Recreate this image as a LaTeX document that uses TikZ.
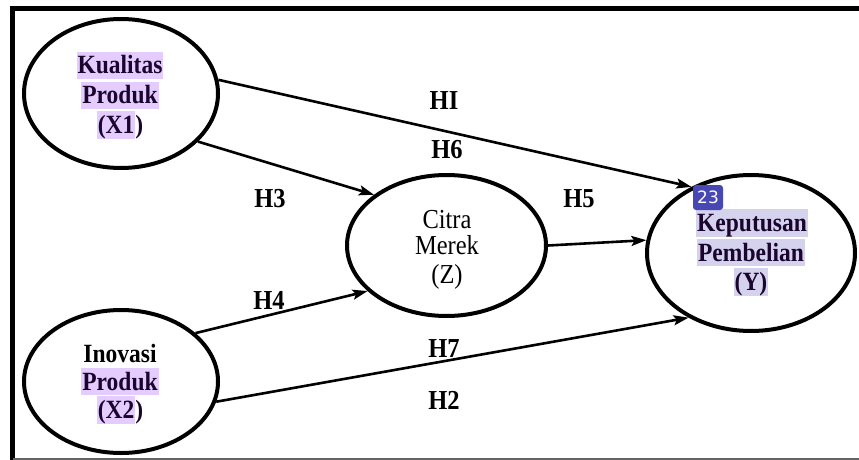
\documentclass[tikz,border=0pt]{standalone}
\usepackage{fontspec}
\setmainfont{Liberation Serif}
\newfontfamily\badgefont{DejaVu Sans}
\usetikzlibrary{shapes.geometric,arrows.meta}
\definecolor{hlA}{RGB}{229,204,255}
\definecolor{hlB}{RGB}{213,210,238}
\definecolor{ink}{RGB}{25,5,45}
\definecolor{badgeblue}{RGB}{72,72,180}
\definecolor{framegray}{RGB}{100,100,100}
\newcommand\hlbox[2]{{\setlength{\fboxsep}{0pt}\colorbox{#1}{\rule[-5pt]{0pt}{27pt}\hspace{1pt}#2\hspace{1pt}}}}
\newcommand\tallish[1]{\scalebox{1}[1.12]{#1}}
\begin{document}
\begin{tikzpicture}[x=1pt,y=-1pt,
  latent/.style={draw, ellipse, line width=4pt, inner sep=0pt},
  hyp/.style={line width=2.6pt, -{Stealth[length=15pt,width=10pt,inset=3pt]}},
  lbl/.style={font=\fontsize{24.5}{24}\selectfont\bfseries, inner sep=0pt},
  txt/.style={anchor=base, inner sep=0pt, font=\fontsize{23.5}{28}\selectfont\bfseries, text=ink},
  txtz/.style={anchor=base, inner sep=0pt, font=\fontsize{24.5}{28}\selectfont, text=black}
]
\useasboundingbox (0,0) rectangle (859,460);
% frame
\draw[line width=5pt] (12.5,460) -- (12.5,8.5) -- (859,8.5);
\draw[framegray, line width=1.5pt] (12.5,459) -- (859,459);

% latent variables
\node[latent, minimum width=194pt, minimum height=149pt] (x1) at (121,93.5) {};
\node[latent, minimum width=194pt, minimum height=143pt] (x2) at (121,381.5) {};
\node[latent, minimum width=199pt, minimum height=141pt] (z) at (446.5,245.5) {};
\node[latent, minimum width=208pt, minimum height=156pt] (y) at (751,253) {};

% texts
\node[txt] (x1a) at (120,74) {\hlbox{hlA}{\tallish{Kualitas}}};
\node[txt] (x1b) at (120,103.5) {\hlbox{hlA}{\tallish{Produk}}};
\node[txt] (x1c) at (120,133) {\hlbox{hlA}{\tallish{(X1}}\tallish{)}};
\node[txt, text=black] (x2a) at (120,362) {\tallish{Inovasi}};
\node[txt] (x2b) at (120,390) {\hlbox{hlA}{\tallish{Produk}}};
\node[txt] (x2c) at (120,418) {\hlbox{hlA}{\tallish{(X2}}\tallish{)}};
\node[txtz] (za) at (447,228) {\tallish{Citra}};
\node[txtz] (zb) at (447,254.5) {\tallish{Merek}};
\node[txtz] (zc) at (447,283) {\tallish{(Z)}};
\node[txt] (ya) at (752,231) {\hlbox{hlB}{\tallish{Keputusan}}};
\node[txt] (yb) at (751,261) {\hlbox{hlB}{\tallish{Pembelian}}};
\node[txt] (yc) at (751,290) {\hlbox{hlB}{\tallish{(Y)}}};

% badge
\node[fill=badgeblue, rounded corners=3pt, minimum width=30pt, minimum height=25pt, inner sep=0pt,
      text=white, font=\badgefont\fontsize{17}{17}\selectfont] (badge) at (708,197.5) {23};

% paths
\draw[hyp] (x1.8.6) -- (y.132.7);
\draw[hyp] (x1.-32.3) -- (z.145.2);
\draw[hyp] (x2.33.3) -- (z.210.8);
\draw[hyp] (x2.-12.2) -- (y.226.8);
\draw[hyp] (z.0) -- (y.173);

% labels
\node[lbl] (h1) at (444,101) {\tallish{HI}};
\node[lbl] (h6) at (447,150) {\tallish{H6}};
\node[lbl] (h3) at (270,199) {\tallish{H3}};
\node[lbl] (h5) at (579,199) {\tallish{H5}};
\node[lbl] (h4) at (269,300) {\tallish{H4}};
\node[lbl] (h7) at (444,349) {\tallish{H7}};
\node[lbl] (h2) at (444,400) {\tallish{H2}};
\end{tikzpicture}
\end{document}
